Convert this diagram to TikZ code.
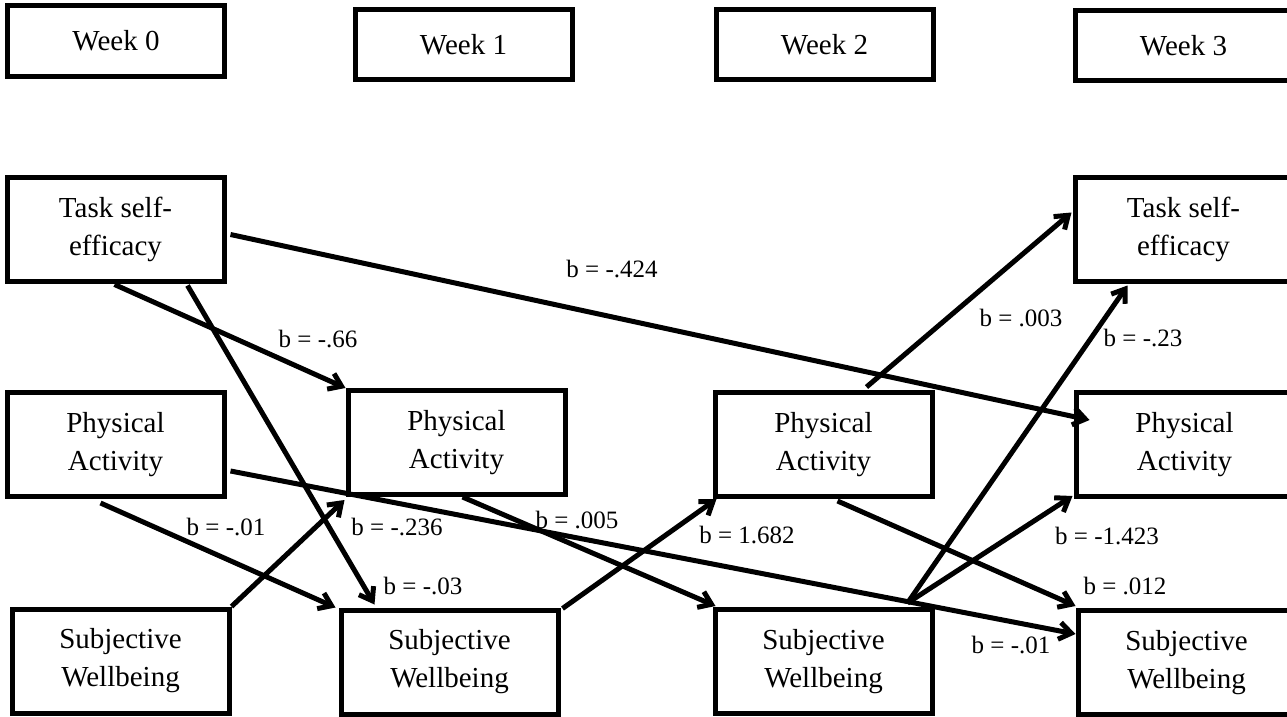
\documentclass[tikz,border=0pt]{standalone}
\usepackage{fontspec}
\setmainfont{Liberation Serif}
\usetikzlibrary{arrows.meta,calc}
\begin{document}
\begin{tikzpicture}[x=1pt,y=-1pt,
  box/.style={draw,line width=5pt,minimum width=217pt,minimum height=104pt,inner sep=0pt,align=center,font=\fontsize{29}{38}\selectfont},
  weekbox/.style={box,minimum height=70pt},
  lab/.style={font=\fontsize{25}{30}\selectfont,inner sep=0pt},
  arr/.style={line width=5pt,-{Straight Barb[length=12pt,width=17pt]}}]
\useasboundingbox (0,0) rectangle (1287,717);
\clip (0,0) rectangle (1287,717);
% week headers
\node[weekbox] (wk0) at (116,41) {Week 0};
\node[weekbox] (wk1) at (463.5,44.5) {Week 1};
\node[weekbox] (wk2) at (824.5,44.5) {Week 2};
\node[weekbox] (wk3) at (1183.5,45.5) {Week 3};
% variables
\node[box] (tse0) at (115.5,229) {Task self-\\efficacy};
\node[box] (pa0) at (115.5,444.5) {Physical\\Activity};
\node[box] (sw0) at (120.5,661) {Subjective\\Wellbeing};
\node[box] (pa1) at (456.5,442.5) {Physical\\Activity};
\node[box] (sw1) at (449.5,662) {Subjective\\Wellbeing};
\node[box] (pa2) at (823.5,444.5) {Physical\\Activity};
\node[box] (sw2) at (823.5,661.5) {Subjective\\Wellbeing};
\node[box] (tse3) at (1183.5,229) {Task self-\\efficacy};
\node[box] (pa3) at (1184.5,444.5) {Physical\\Activity};
\node[box] (sw3) at (1186.5,662.5) {Subjective\\Wellbeing};
% connectors
\draw[arr] ($(tse0.south west)+(110,1)$) -- (pa1.north west);
\draw[arr] ($(tse0.south west)+(183,2)$) -- ($(sw1.north west)+(36,-3)$);
\draw[arr] ($(tse0.north east)+(4,60)$) -- ($(pa3.north west)+(16,30)$);
\draw[arr] ($(pa0.north east)+(4,81)$) -- ($(sw3.north west)+(0,26)$);
\draw[arr] ($(pa0.south west)+(96,4)$) -- ($(sw1.north west)+(-3,0)$);
\draw[arr] (sw0.north east) -- ($(pa1.south west)+(-1,3)$);
\draw[arr] ($(pa1.south west)+(117,0)$) -- ($(sw2.north west)+(3,-1)$);
\draw[arr] ($(sw1.north east)+(2,1)$) -- ($(pa2.south west)+(4,0)$);
\draw[arr] ($(pa2.north west)+(154,-3)$) -- ($(tse3.north west)+(-1,38)$);
\draw[arr] ($(sw2.north west)+(195,-4)$) -- ($(tse3.south west)+(55,2)$);
\draw[arr] ($(sw2.north west)+(195,-4)$) -- ($(pa3.south west)+(-1,-3)$);
\draw[arr] ($(pa2.south west)+(125,2)$) -- ($(sw3.north west)+(0,-2)$);
% labels
\node[lab] (l1) at (318,339) {b = -.66};
\node[lab] (l2) at (612,269) {b = -.424};
\node[lab] (l3) at (226,527) {b = -.01};
\node[lab] (l4) at (397,527) {b = -.236};
\node[lab] (l5) at (423,586) {b = -.03};
\node[lab] (l6) at (577,520) {b = .005};
\node[lab] (l7) at (747,535) {b = 1.682};
\node[lab] (l8) at (1021,318) {b = .003};
\node[lab] (l9) at (1143,338) {b = -.23};
\node[lab] (l10) at (1107,536) {b = -1.423};
\node[lab] (l11) at (1125,586) {b = .012};
\node[lab] (l12) at (1011,645) {b = -.01};
\end{tikzpicture}
\end{document}
